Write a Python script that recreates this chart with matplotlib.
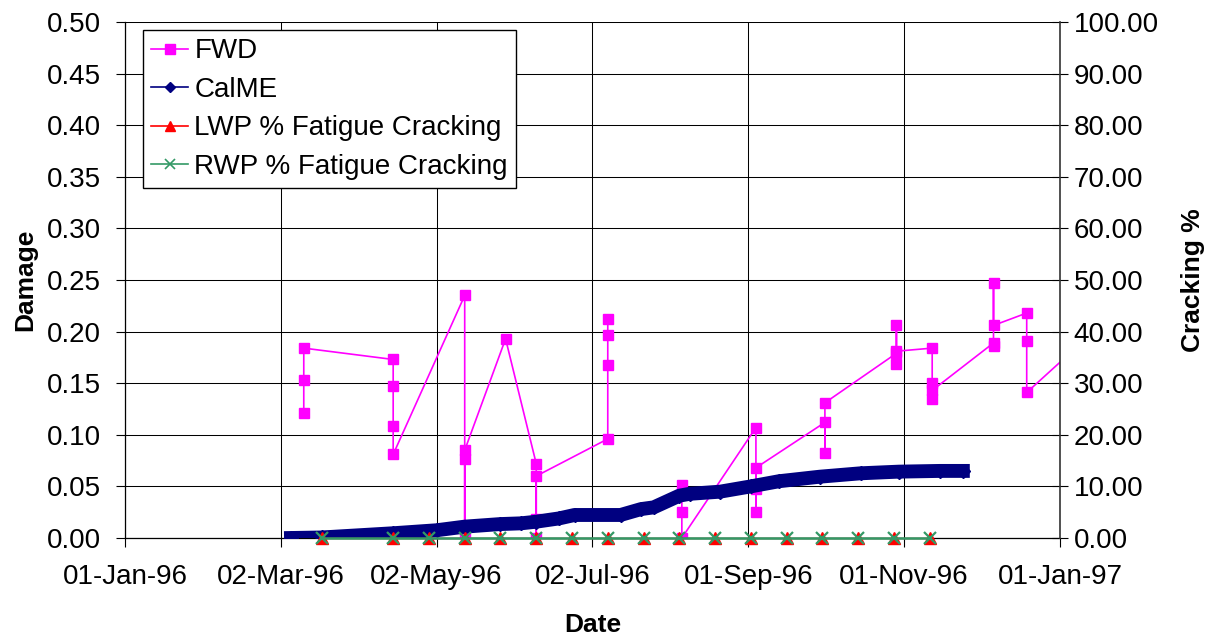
import numpy as np
import pandas as pd
import matplotlib.pyplot as plt
import matplotlib.dates as mdates
from matplotlib.lines import Line2D
from matplotlib.ticker import FormatStrFormatter, MultipleLocator

plt.rcParams["font.family"] = ["Liberation Sans", "DejaVu Sans"]

# -----------------------------
# Data
# -----------------------------
# FWD damage: several values per test date, NaN breaks the line
fwd_dates = (
    ["1996-03-11"] * 3 + ["1996-04-15"] * 4 + ["1996-05-13"] * 4 + ["1996-05-29"]
    + ["1996-06-10"] * 4 + ["1996-07-08"] * 4 + ["1996-07-22"]
    + ["1996-08-06"] * 3 + ["1996-09-04"] * 4 + ["1996-10-01"] * 3
    + ["1996-10-29"] * 4 + ["1996-11-12"] * 4 + ["1996-12-06"] * 4
    + ["1996-12-19"] * 3 + ["1997-01-08"]
)
fwd_damage = [
    0.121, 0.153, 0.184,
    0.173, 0.147, 0.109, 0.081,
    0.235, 0.000, 0.077, 0.085,
    0.193,
    0.072, 0.018, 0.000, 0.060,
    0.096, 0.168, 0.197, 0.212,
    np.nan,
    0.051, 0.025, 0.000,
    0.107, 0.025, 0.047, 0.068,
    0.112, 0.082, 0.131,
    0.179, 0.206, 0.169, 0.181,
    0.184, 0.150, 0.135, 0.143,
    0.189, 0.186, 0.247, 0.206,
    0.218, 0.191, 0.141,
    0.186,
]

# CalME damage
calme_dates = [
    "1996-03-06", "1996-03-18", "1996-04-15", "1996-05-02", "1996-05-13",
    "1996-05-27", "1996-06-04", "1996-06-10", "1996-06-19", "1996-06-25",
    "1996-07-13", "1996-07-21", "1996-07-26", "1996-08-05", "1996-08-09",
    "1996-08-21", "1996-09-02", "1996-09-13", "1996-09-29", "1996-10-15",
    "1996-10-30", "1996-11-15", "1996-11-24",
]
calme_damage = [
    0.000, 0.0005, 0.0046, 0.0075, 0.011,
    0.0135, 0.0142, 0.0158, 0.019, 0.0223,
    0.0223, 0.028, 0.0297, 0.041, 0.0428,
    0.0449, 0.050, 0.055, 0.0594, 0.0627,
    0.0643, 0.065, 0.065,
]

# Cracking surveys (% fatigue cracking)
crack_dates = [
    "1996-03-18", "1996-04-15", "1996-04-29", "1996-05-13", "1996-05-27",
    "1996-06-10", "1996-06-24", "1996-07-08", "1996-07-22", "1996-08-05",
    "1996-08-19", "1996-09-02", "1996-09-16", "1996-09-30", "1996-10-14",
    "1996-10-28", "1996-11-11",
]
lwp_cracking = [0.0] * 17
rwp_cracking = [0.0] * 17

tick_dates = pd.date_range("1996-01-01", periods=7, freq="61D")

FWD_C = "#FF00FF"
CALME_C = "#000080"
LWP_C = "#FF0000"
RWP_C = "#339966"

# -----------------------------
# Plot
# -----------------------------
fig = plt.figure(figsize=(12.19, 6.42), dpi=100)
ax = fig.add_axes([0.1025, 0.162, 0.767, 0.8037])
ax2 = ax.twinx()

ax.plot(pd.to_datetime(fwd_dates), fwd_damage, color=FWD_C, lw=1.2,
        marker="s", ms=7, mec=FWD_C, zorder=3)
ax.plot(pd.to_datetime(calme_dates), calme_damage, color=CALME_C, lw=10,
        marker="D", ms=7, mec=CALME_C, solid_joinstyle="round", zorder=4)

ax2.plot(pd.to_datetime(crack_dates), lwp_cracking, color=LWP_C, lw=1,
         marker="^", ms=8, mec=LWP_C, clip_on=False, zorder=5)
ax2.plot(pd.to_datetime(crack_dates), rwp_cracking, color=RWP_C, lw=1.8,
         marker="x", ms=8, mew=1.6, clip_on=False, zorder=6)

# axes
ax.set_xlim(pd.Timestamp("1996-01-01"), pd.Timestamp("1997-01-01"))
ax.set_ylim(0, 0.5)
ax2.set_ylim(0, 100)
ax.set_xticks(tick_dates)
ax.xaxis.set_major_formatter(mdates.DateFormatter("%d-%b-%y"))
ax.yaxis.set_major_locator(MultipleLocator(0.05))
ax.yaxis.set_major_formatter(FormatStrFormatter("%.2f"))
ax2.yaxis.set_major_locator(MultipleLocator(10))
ax2.yaxis.set_major_formatter(FormatStrFormatter("%.2f"))

ax.grid(True, color="black", lw=0.75)
ax.set_axisbelow(True)
for s in ["top", "right"]:
    ax.spines[s].set_visible(False)
for s in ["top", "left", "bottom"]:
    ax2.spines[s].set_visible(False)
ax.spines["left"].set_linewidth(0.9)
ax.spines["bottom"].set_linewidth(0.9)
ax2.spines["right"].set_linewidth(1.2)
ax2.spines["right"].set_color("#333333")

ax.tick_params(axis="y", direction="out", length=6.5, width=0.8, labelsize=20, pad=11)
ax.tick_params(axis="x", direction="out", length=6.5, width=0.8, labelsize=20, pad=12)
ax2.tick_params(axis="y", direction="inout", length=12, width=0.8, labelsize=20, pad=4)

ax.set_xlabel("Date", fontsize=19, fontweight="bold")
ax.set_ylabel("Damage", fontsize=19, fontweight="bold")
ax2.set_ylabel("Cracking %", fontsize=19, fontweight="bold")
ax.xaxis.set_label_coords(0.5, -0.146)
ax.yaxis.set_label_coords(-0.094, 0.5)
ax2.yaxis.set_label_coords(1.130, 0.5)

# legend
handles = [
    Line2D([], [], color=FWD_C, lw=1.2, marker="s", ms=7, mec=FWD_C),
    Line2D([], [], color=CALME_C, lw=1.2, marker="D", ms=5.5, mec=CALME_C),
    Line2D([], [], color=LWP_C, lw=1.2, marker="^", ms=7, mec=LWP_C),
    Line2D([], [], color=RWP_C, lw=1.2, marker="x", ms=7, mew=1.2),
]
labels = ["FWD", "CalME", "LWP % Fatigue Cracking", "RWP % Fatigue Cracking"]
leg = ax2.legend(handles, labels, loc="upper left", bbox_to_anchor=(0.0193, 0.9845),
                 borderaxespad=0, fontsize=20, frameon=True, fancybox=False,
                 framealpha=1, edgecolor="black", handlelength=1.33,
                 handletextpad=0.22, labelspacing=0.45, borderpad=0.3)
leg.get_frame().set_linewidth(1.0)
leg.set_zorder(10)

fig.savefig("out.png", dpi=100)
